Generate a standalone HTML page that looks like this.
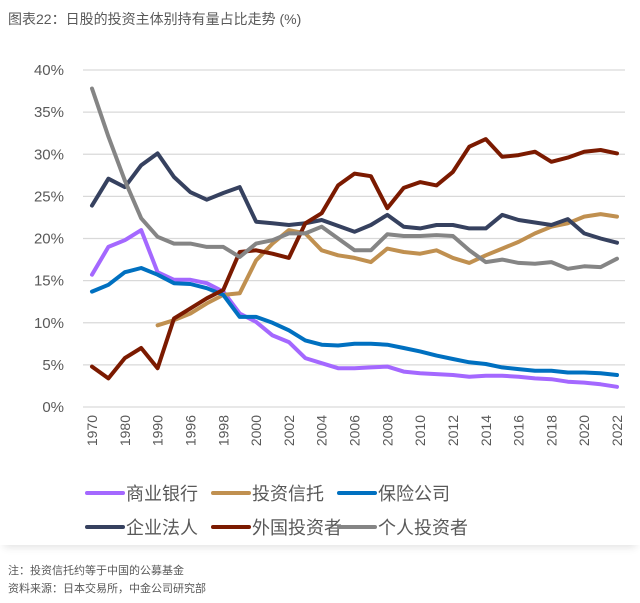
<!DOCTYPE html>
<html><head><meta charset="utf-8"><style>
body{margin:0;width:640px;height:603px;background:#fff;font-family:"Liberation Sans","Noto Sans CJK SC",sans-serif;overflow:hidden;position:relative}
.card{position:absolute;left:0;top:40px;width:640px;height:505px;background:#fff;box-shadow:0 6px 8px -4px rgba(0,0,0,0.12)}
</style></head><body>
<div style="position:absolute;left:8px;top:9px;font-size:14px;color:#595959">图表22：日股的投资主体别持有量占比走势 (%)</div>
<div class="card"></div>
<svg id="chart" width="640" height="603" style="position:absolute;left:0;top:0"></svg>
<div style="position:absolute;left:8px;top:562px;font-size:11px;color:#595959">注：投资信托约等于中国的公募基金</div>
<div style="position:absolute;left:8px;top:580px;font-size:11px;color:#595959">资料来源：日本交易所，中金公司研究部</div>
<script>
const categories=["1970","1975","1980","1985","1990","1995","1996","1997","1998","1999","2000","2001","2002","2003","2004","2005","2006","2007","2008","2009","2010","2011","2012","2013","2014","2015","2016","2017","2018","2019","2020","2021","2022"];
const xTickLabels=["1970","1980","1990","1996","1998","2000","2002","2004","2006","2008","2010","2012","2014","2016","2018","2020","2022"];
const yTicks=[0,5,10,15,20,25,30,35,40];
const banks=[15.7,19.0,19.8,21.0,16.0,15.1,15.1,14.7,13.7,11.1,10.1,8.5,7.7,5.8,5.2,4.6,4.6,4.7,4.8,4.2,4.0,3.9,3.8,3.6,3.7,3.7,3.6,3.4,3.3,3.0,2.9,2.7,2.4];
const trusts=[null,null,null,null,9.7,10.3,11.1,12.3,13.3,13.5,17.4,19.4,21.0,20.6,18.6,18.0,17.7,17.2,18.8,18.4,18.2,18.6,17.7,17.1,18.0,18.8,19.6,20.6,21.4,21.8,22.6,22.9,22.6];
const insurance=[13.7,14.5,16.0,16.5,15.7,14.7,14.6,14.1,13.3,10.7,10.7,10.0,9.1,7.9,7.4,7.3,7.5,7.5,7.4,7.0,6.6,6.1,5.7,5.3,5.1,4.7,4.5,4.3,4.3,4.1,4.1,4.0,3.8];
const corporate=[23.9,27.1,26.1,28.7,30.1,27.3,25.5,24.6,25.4,26.1,22.0,21.8,21.6,21.8,22.2,21.5,20.8,21.6,22.8,21.4,21.2,21.6,21.6,21.2,21.2,22.8,22.2,21.9,21.6,22.3,20.6,20.0,19.5];
const foreign=[4.8,3.4,5.8,7.0,4.6,10.5,11.7,12.9,13.9,18.4,18.6,18.2,17.7,21.8,23.0,26.3,27.7,27.4,23.6,26.0,26.7,26.3,27.9,30.9,31.8,29.7,29.9,30.3,29.1,29.6,30.3,30.5,30.1];
const individual=[37.8,32.1,26.9,22.4,20.2,19.4,19.4,19.0,19.0,17.8,19.4,19.8,20.6,20.6,21.4,20.0,18.6,18.6,20.5,20.3,20.3,20.4,20.3,18.6,17.2,17.5,17.1,17.0,17.2,16.4,16.7,16.6,17.6];
const seriesNames=["商业银行","投资信托","保险公司","企业法人","外国投资者","个人投资者"];
const seriesData=[banks,trusts,insurance,corporate,foreign,individual];
const colors=["#a468ff","#c09050","#0070c0","#36415f","#7b1a00","#858585"];
const keys=["banks","trusts","insurance","corporate","foreign","individual"];
const NS="http://www.w3.org/2000/svg";
const svg=document.getElementById('chart');
const x0=92,x1=617,y0=407,y1=70;
const xScale=i=>x0+(x1-x0)*i/(categories.length-1);
const yScale=v=>y0-(y0-y1)*v/40;
function mk(t,a){const e=document.createElementNS(NS,t);for(const k in a)e.setAttribute(k,a[k]);svg.appendChild(e);return e;}
yTicks.forEach(v=>{
  const g=mk('line',{x1:83,x2:625,y1:yScale(v),y2:yScale(v),stroke:'#d9d9d9','stroke-width':1.2});
  
  
  const t=mk('text',{x:64,y:yScale(v)+5,'text-anchor':'end','font-size':15,fill:'#595959'});
  t.textContent=v+'%';
  
  
});
xTickLabels.forEach(lbl=>{
  const i=categories.indexOf(lbl);
  const x=xScale(i);
  const t=mk('text',{x:0,y:0,transform:`translate(${x+5},${415}) rotate(-90)`,'text-anchor':'end','font-size':14,fill:'#595959'});
  t.textContent=lbl;
  
  
});
seriesData.forEach((d,s)=>{
  let p='';let started=false;
  d.forEach((v,i)=>{if(v==null)return;p+=(started?'L':'M')+xScale(i).toFixed(1)+','+yScale(v).toFixed(1);started=true;});
  const l=mk('path',{d:p,fill:'none',stroke:colors[s],'stroke-width':4,'stroke-linejoin':'round','stroke-linecap':'round'});
  
  
});
const legX=[[87,127],[213,253],[339,380]];
seriesNames.forEach((n,s)=>{
  const r=Math.floor(s/3),c=s%3;const y=r?527:493;
  const ln=mk('line',{x1:legX[c][0],x2:legX[c][0]+36,y1:y,y2:y,stroke:colors[s],'stroke-width':4,'stroke-linecap':'round'});
  
  
  const t=mk('text',{x:legX[c][0]+39,y:y+7,'font-size':18,fill:'#595959'});
  t.textContent=n;
  
  
});
</script>
</body></html>
